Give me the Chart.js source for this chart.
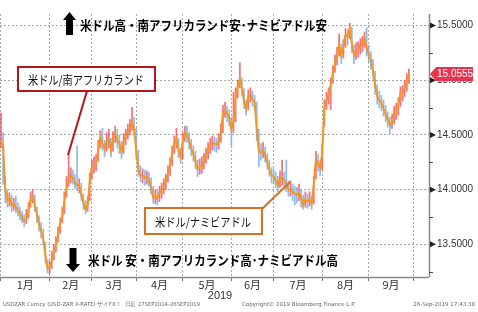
<!DOCTYPE html>
<html><head><meta charset="utf-8">
<script src="https://cdn.jsdelivr.net/npm/chart.js@4.4.0/dist/chart.umd.min.js"></script>
<style>html,body{margin:0;padding:0;background:#fff;}#wrap{width:478px;height:312px;}</style>
</head><body><div id="wrap"><canvas id="c" width="478" height="312"></canvas></div>
<script>
const monthLabels = ['1月','2月','3月','4月','5月','6月','7月','8月','9月'];
const monthTradingDays = [23,20,21,22,23,20,23,22,21];
const yearLabel = '2019';
const yTicks = [13.5, 14.0, 14.5, 15.0, 15.5];
const lastPrice = 15.0555;

const closes = [14.45,14.40,14.01,13.90,13.92,13.86,13.87,13.84,13.81,13.78,
13.75,13.71,13.73,13.80,13.92,13.94,13.85,13.78,13.68,13.62,
13.55,13.40,13.28,13.29,13.35,13.42,13.50,13.58,13.68,13.75,
13.90,14.01,14.10,14.14,14.11,14.06,14.04,14.04,13.95,13.88,
13.82,13.86,14.08,14.21,14.22,14.24,14.36,14.48,14.42,14.37,
14.44,14.46,14.36,14.47,14.51,14.45,14.42,14.34,14.44,14.49,
14.53,14.57,14.61,14.56,14.35,14.18,14.13,14.13,14.11,14.12,
14.09,14.02,13.93,13.94,13.92,13.97,13.99,14.03,14.08,14.15,
14.21,14.33,14.42,14.46,14.36,14.30,14.45,14.52,14.50,14.44,
14.38,14.33,14.26,14.19,14.21,14.22,14.26,14.31,14.36,14.40,
14.43,14.42,14.41,14.44,14.52,14.70,14.73,14.69,14.66,14.55,
14.62,14.86,14.94,15.01,14.93,14.80,14.74,14.85,14.87,14.82,
14.80,14.55,14.35,14.34,14.36,14.31,14.25,14.18,14.13,14.12,
14.08,14.04,14.10,14.11,14.09,14.05,14.00,14.01,13.98,13.96,
13.95,13.97,13.93,13.86,13.91,13.89,13.91,13.88,14.05,14.28,
14.24,14.20,14.34,14.75,14.82,14.87,14.95,15.06,15.16,15.23,
15.32,15.22,15.30,15.41,15.40,15.47,15.33,15.23,15.27,15.28,
15.31,15.34,15.38,15.30,15.23,15.18,15.08,14.95,14.85,14.82,
14.79,14.74,14.69,14.64,14.59,14.62,14.70,14.71,14.77,14.88,
14.88,14.93,14.98,15.0555];

const highs = [14.70,14.52,14.12,14.00,13.97,13.95,13.92,13.94,13.88,13.84,
13.80,13.77,13.82,13.88,13.98,14.00,13.95,13.84,13.76,13.70,
13.64,13.52,13.36,13.35,13.44,13.50,13.57,13.66,13.74,13.84,
13.98,14.12,14.32,14.20,14.18,14.14,14.40,14.10,14.06,13.96,
13.90,13.93,14.15,14.27,14.30,14.32,14.45,14.54,14.56,14.45,
14.52,14.55,14.47,14.53,14.58,14.55,14.50,14.44,14.51,14.55,
14.60,14.64,14.75,14.66,14.56,14.36,14.22,14.19,14.18,14.17,
14.16,14.11,14.03,14.00,13.99,14.03,14.06,14.10,14.14,14.22,
14.29,14.40,14.49,14.56,14.47,14.38,14.52,14.58,14.58,14.52,
14.46,14.40,14.35,14.27,14.28,14.30,14.33,14.38,14.43,14.47,
14.49,14.48,14.47,14.51,14.60,14.77,14.80,14.76,14.73,14.66,
14.89,14.93,15.00,15.16,15.02,14.92,14.82,14.91,14.93,14.90,
14.86,14.80,14.55,14.42,14.43,14.39,14.33,14.27,14.20,14.19,
14.16,14.12,14.17,14.27,14.16,14.27,14.08,14.08,14.05,14.03,
14.02,14.05,14.00,13.95,13.98,13.96,13.98,13.94,14.12,14.35,
14.32,14.27,14.42,14.82,14.89,14.93,15.02,15.13,15.23,15.30,
15.42,15.33,15.37,15.47,15.46,15.52,15.48,15.32,15.34,15.35,
15.38,15.40,15.44,15.48,15.32,15.26,15.19,15.08,14.96,14.90,
14.86,14.82,14.77,14.71,14.66,14.69,14.76,14.79,14.84,14.94,
14.95,15.00,15.06,15.10];

const lows = [14.38,14.05,13.88,13.84,13.85,13.80,13.81,13.79,13.76,13.72,
13.70,13.66,13.69,13.74,13.84,13.88,13.80,13.70,13.62,13.56,
13.50,13.33,13.24,13.23,13.28,13.36,13.43,13.52,13.60,13.70,
13.78,13.93,14.03,14.06,14.05,14.01,13.99,13.97,13.90,13.82,
13.78,13.80,13.90,14.10,14.15,14.17,14.26,14.38,14.36,14.30,
14.35,14.38,14.30,14.35,14.43,14.38,14.33,14.28,14.33,14.41,
14.46,14.50,14.54,14.50,14.28,14.12,14.07,14.06,14.04,14.05,
14.03,13.96,13.88,13.87,13.86,13.89,13.92,13.96,14.00,14.07,
14.13,14.22,14.33,14.38,14.29,14.24,14.28,14.44,14.43,14.37,
14.31,14.26,14.19,14.12,14.14,14.15,14.19,14.24,14.28,14.33,
14.36,14.35,14.34,14.37,14.43,14.52,14.66,14.62,14.58,14.40,
14.52,14.62,14.84,14.93,14.86,14.74,14.68,14.73,14.80,14.76,
14.72,14.45,14.21,14.27,14.29,14.25,14.19,14.12,14.06,14.05,
14.02,13.98,14.02,14.04,14.02,13.98,13.94,13.94,13.90,13.86,
13.88,13.90,13.84,13.82,13.84,13.83,13.85,13.82,13.87,14.10,
14.17,14.13,14.18,14.58,14.73,14.78,14.73,14.97,15.07,15.14,
15.22,15.15,15.20,15.30,15.32,15.38,15.25,15.15,15.19,15.21,
15.24,15.26,15.30,15.22,15.16,15.10,15.01,14.87,14.78,14.75,
14.72,14.67,14.62,14.57,14.51,14.56,14.60,14.64,14.68,14.76,
14.81,14.85,14.90,14.97];

// month boundaries and mid-month label positions (trading-day index)
const bounds = [0];
monthTradingDays.forEach(d => bounds.push(bounds[bounds.length-1] + d));
const mids = monthLabels.map((m, k) => (bounds[k] + bounds[k+1]) / 2);
const xTickVals = bounds.concat(mids).sort((a,b)=>a-b);
const minorY = yTicks.map(v => v - 0.25).concat([yTicks[yTicks.length-1] + 0.25]);

const jp = "'Noto Sans CJK JP','Noto Sans',sans-serif";

const overlay = {
  id: 'overlay',
  afterDraw(chart) {
    const ctx = chart.ctx, ys = chart.scales.y, ca = chart.chartArea;
    ctx.save();
    // solid axis lines
    ctx.strokeStyle = '#8a8a8a'; ctx.lineWidth = 1.5;
    ctx.beginPath(); ctx.moveTo(ca.right + 0.5, ca.top); ctx.lineTo(ca.right + 0.5, ca.bottom); ctx.stroke();
    ctx.beginPath(); ctx.moveTo(ca.left, ca.bottom + 0.5); ctx.lineTo(ca.right, ca.bottom + 0.5); ctx.stroke();
    // y axis markers
    ctx.fillStyle = '#222'; ctx.strokeStyle = '#444'; ctx.lineWidth = 1;
    yTicks.forEach(v => {
      const y = ys.getPixelForValue(v);
      ctx.beginPath(); ctx.moveTo(ca.right + 1, y - 3); ctx.lineTo(ca.right + 7, y); ctx.lineTo(ca.right + 1, y + 3); ctx.closePath(); ctx.fill();
    });
    minorY.forEach(v => {
      if (v < ys.min || v > ys.max) return;
      const y = Math.round(ys.getPixelForValue(v)) + 0.5;
      ctx.beginPath(); ctx.moveTo(ca.right, y); ctx.lineTo(ca.right + 4, y); ctx.stroke();
    });
    // last price tag
    const ly = ys.getPixelForValue(lastPrice);
    ctx.fillStyle = '#e8354f';
    ctx.beginPath();
    ctx.moveTo(ca.right + 1, ly); ctx.lineTo(ca.right + 7, ly - 7); ctx.lineTo(473, ly - 7);
    ctx.lineTo(473, ly + 7); ctx.lineTo(ca.right + 7, ly + 7); ctx.closePath(); ctx.fill();
    ctx.fillStyle = '#fff'; ctx.font = "10px 'Liberation Sans',Arial,sans-serif";
    ctx.textAlign = 'left'; ctx.textBaseline = 'middle';
    ctx.fillText(lastPrice.toFixed(4), ca.right + 8, ly + 0.5);

    // year label
    ctx.fillStyle = '#333'; ctx.font = "11px 'Liberation Sans',Arial,sans-serif"; ctx.textAlign = 'center';
    ctx.fillText(yearLabel, 220, 296);

    // footer
    ctx.fillStyle = '#666'; ctx.font = "5.5px 'DejaVu Sans',sans-serif"; ctx.textAlign = 'left';
    ctx.fillText('USDZAR Curncy (USD-ZAR X-RATE) ザイFX！  日足 27SEP2014-26SEP2019', 3, 305, 197);
    ctx.fillText('Copyright© 2019 Bloomberg Finance L.P.', 242, 305, 120);
    ctx.textAlign = 'right';
    ctx.fillText('26-Sep-2019 17:43:38', 475, 305, 68);

    // arrows
    ctx.fillStyle = '#000';
    ctx.beginPath();
    ctx.moveTo(69.5, 12); ctx.lineTo(76, 20); ctx.lineTo(73, 20); ctx.lineTo(73, 35);
    ctx.lineTo(66, 35); ctx.lineTo(66, 20); ctx.lineTo(63, 20); ctx.closePath(); ctx.fill();
    ctx.beginPath();
    ctx.moveTo(69.5, 248); ctx.lineTo(76.5, 248); ctx.lineTo(76.5, 264); ctx.lineTo(80, 264);
    ctx.lineTo(73, 272); ctx.lineTo(66, 264); ctx.lineTo(69.5, 264); ctx.closePath(); ctx.fill();

    // headline texts
    ctx.font = "bold 13px " + jp; ctx.textAlign = 'left'; ctx.textBaseline = 'middle';
    ctx.fillText('米ドル高・南アフリカランド安･ナミビアドル安', 80, 25, 247);
    ctx.fillText('米ドル 安・南アフリカランド高･ナミビアドル高', 88, 260, 250);

    // red callout
    ctx.strokeStyle = '#b3151d'; ctx.lineWidth = 2;
    ctx.beginPath(); ctx.moveTo(87, 91); ctx.lineTo(68, 155); ctx.stroke();
    ctx.fillStyle = '#fff'; ctx.fillRect(18, 67, 137, 24);
    ctx.strokeRect(18, 67, 137, 24);
    ctx.fillStyle = '#111'; ctx.font = "12px " + jp;
    ctx.fillText('米ドル/南アフリカランド', 28, 80, 116);

    // orange callout
    ctx.strokeStyle = '#d2731f';
    ctx.beginPath(); ctx.moveTo(262, 209); ctx.lineTo(290, 182); ctx.stroke();
    ctx.fillStyle = '#fff'; ctx.fillRect(145, 208, 117, 26);
    ctx.strokeRect(145, 208, 117, 26);
    ctx.fillStyle = '#111';
    ctx.fillText('米ドル/ナミビアドル', 155, 222, 96);
    ctx.restore();
  }
};

new Chart(document.getElementById('c'), {
  type: 'bar',
  data: {
    datasets: [
      {
        type: 'line',
        data: closes.map((c, i) => ({x: i, y: c})),
        borderColor: '#f5961e',
        borderWidth: 2,
        pointRadius: 0,
        tension: 0,
        order: 0
      },
      {
        type: 'bar',
        data: closes.map((c, i) => ({x: i, y: [lows[i], highs[i]]})),
        backgroundColor: ctx => {
          const i = ctx.dataIndex;
          return (i > 0 && closes[i] < closes[i-1]) ? 'rgba(125,178,232,0.85)' : 'rgba(238,70,85,0.75)';
        },
        barThickness: 1.1,
        borderWidth: 0,
        order: 1
      }
    ]
  },
  options: {
    responsive: false,
    animation: false,
    devicePixelRatio: 1,
    layout: {padding: 0},
    plugins: {legend: {display: false}, tooltip: {enabled: false}},
    scales: {
      x: {
        type: 'linear',
        min: -0.47, max: 202.5,
        offset: false,
        afterBuildTicks: s => { s.ticks = xTickVals.map(v => ({value: v})); },
        afterFit: s => { s.height = 35; },
        grid: {
          offset: false,
          color: c => (c.tick && bounds.includes(c.tick.value)) ? '#a8a8a8' : 'rgba(0,0,0,0)',
          tickColor: c => (c.tick && bounds.includes(c.tick.value)) ? '#777' : 'rgba(0,0,0,0)',
          tickLength: 4,
          lineWidth: 1
        },
        border: {display: false, dash: [2, 2]},
        ticks: {
          autoSkip: false, maxRotation: 0, padding: -3,
          color: '#333',
          font: {size: 11, family: jp},
          callback: v => { const k = mids.indexOf(v); return k >= 0 ? monthLabels[k] : ''; }
        }
      },
      y: {
        position: 'right',
        min: 13.202, max: 15.604,
        afterBuildTicks: s => { s.ticks = yTicks.concat(minorY).sort((a,b)=>a-b).map(v => ({value: v})); },
        afterFit: s => { s.width = 49; },
        grid: {
          drawTicks: false,
          color: c => (c.tick && yTicks.includes(c.tick.value)) ? '#a8a8a8' : 'rgba(0,0,0,0)',
          lineWidth: 1
        },
        border: {display: false, dash: [2, 2]},
        ticks: {
          padding: 8,
          color: '#333',
          font: {size: 10, family: "'Liberation Sans',Arial,sans-serif"},
          callback: v => yTicks.includes(v) ? v.toFixed(4) : ''
        }
      }
    }
  },
  plugins: [overlay]
});
</script></body></html>
